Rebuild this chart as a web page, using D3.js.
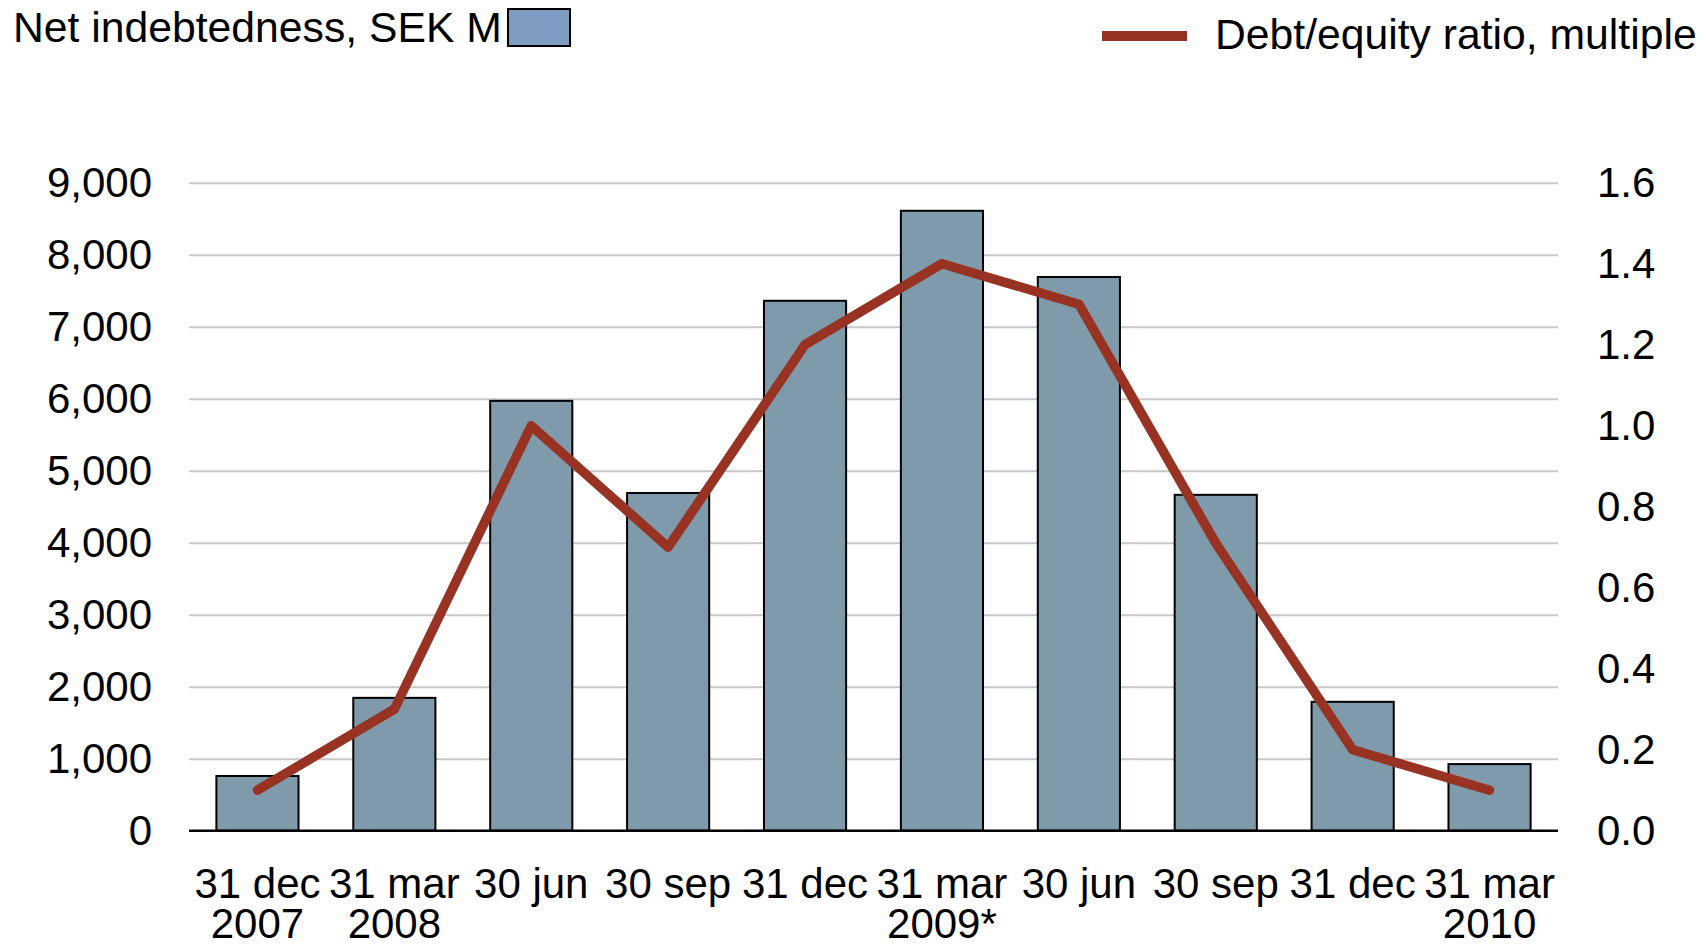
<!DOCTYPE html>
<html>
<head>
<meta charset="utf-8">
<script src="https://cdn.jsdelivr.net/npm/d3@7"></script>
<style>
  body { margin: 0; background: #fff; }
  svg { display: block; }
  text { font-family: "Liberation Sans", Arial, sans-serif; fill: #000; }
</style>
</head>
<body>
<div id="graph"></div>
<script>
// quarter-end dates, first and second line of the x labels
var periods = [ "31 dec", "31 mar", "30 jun", "30 sep", "31 dec", "31 mar", "30 jun", "30 sep", "31 dec", "31 mar" ];
var years = [ "2007", "2008", "", "", "", "2009*", "", "", "", "2010" ];

// net indebtedness, SEK M (bars, left axis)
var netDebt = [ 760, 1845, 5970, 4690, 7360, 8610, 7690, 4665, 1790, 925 ];

// debt/equity ratio, multiple (line, right axis)
var debtEquity = [ 0.1, 0.3, 1.0, 0.7, 1.2, 1.4, 1.3, 0.71, 0.2, 0.1 ];

var leftTicks = [ 0, 1000, 2000, 3000, 4000, 5000, 6000, 7000, 8000, 9000 ];
var rightTicks = [ 0, 0.2, 0.4, 0.6, 0.8, 1.0, 1.2, 1.4, 1.6 ];

document.addEventListener( "DOMContentLoaded", function() {
    var width = 1707;
    var height = 947;
    var plot = { left: 189, right: 1558, top: 182.7, bottom: 830.7 };

    var vis = d3.select( "#graph" ).append( "svg" )
        .attr( "width", width )
        .attr( "height", height );

    var x = d3.scaleBand()
        .domain( d3.range( periods.length ) )
        .range( [ plot.left, plot.right ] )
        .paddingInner( 0.4 )
        .paddingOuter( 0.2 );

    var yLeft = d3.scaleLinear().domain( [ 0, 9000 ] ).range( [ plot.bottom, plot.top ] );
    var yRight = d3.scaleLinear().domain( [ 0, 1.6 ] ).range( [ plot.bottom, plot.top ] );

    drawAxes( vis, plot, x, yLeft, yRight );
    drawBars( vis, x, yLeft );
    drawLine( vis, x, yRight );
    drawLegend( vis );
});

function drawAxes( vis, plot, x, yLeft, yRight ) {
    // left axis, its ticks double as the grey gridlines
    var left = vis.append( "g" )
        .attr( "transform", "translate(" + plot.left + ",0)" )
        .call( d3.axisLeft( yLeft )
            .tickValues( leftTicks )
            .tickSize( -( plot.right - plot.left ) )
            .tickPadding( 37 )
            .tickFormat( d3.format( ",d" ) ) );
    left.select( ".domain" ).remove();
    left.selectAll( ".tick line" )
        .attr( "stroke", "#c8c8c8" )
        .attr( "stroke-width", 2 )
        .attr( "display", function( d ) { return d === 0 ? "none" : null; });
    left.selectAll( ".tick text" )
        .attr( "font-size", 42 )
        .attr( "font-family", "Liberation Sans, Arial, sans-serif" )
        .attr( "fill", "#000" );

    var right = vis.append( "g" )
        .attr( "transform", "translate(" + plot.right + ",0)" )
        .call( d3.axisRight( yRight )
            .tickValues( rightTicks )
            .tickSize( 0 )
            .tickPadding( 39 )
            .tickFormat( d3.format( ".1f" ) ) );
    right.select( ".domain" ).remove();
    right.selectAll( ".tick text" )
        .attr( "font-size", 42 )
        .attr( "font-family", "Liberation Sans, Arial, sans-serif" )
        .attr( "fill", "#000" );

    // x labels, two lines each
    var labels = vis.append( "g" ).selectAll( "text" )
        .data( periods )
        .enter().append( "text" )
        .attr( "text-anchor", "middle" )
        .attr( "font-size", 42 )
        .attr( "x", function( d, i ) { return x( i ) + x.bandwidth() / 2; })
        .attr( "y", 898 );
    labels.append( "tspan" ).text( function( d ) { return d; });
    labels.append( "tspan" )
        .attr( "x", function( d, i ) { return x( i ) + x.bandwidth() / 2; })
        .attr( "dy", 39.5 )
        .text( function( d, i ) { return years[ i ]; });
}

function drawBars( vis, x, yLeft ) {
    vis.append( "g" ).selectAll( "rect" )
        .data( netDebt )
        .enter().append( "rect" )
        .attr( "x", function( d, i ) { return x( i ); })
        .attr( "y", function( d ) { return yLeft( d ); })
        .attr( "width", x.bandwidth() )
        .attr( "height", function( d ) { return yLeft( 0 ) - yLeft( d ); })
        .attr( "fill", "#7f9bab" )
        .attr( "stroke", "#000" )
        .attr( "stroke-width", 2 );

    // black baseline
    vis.append( "line" )
        .attr( "x1", x.range()[ 0 ] )
        .attr( "x2", x.range()[ 1 ] )
        .attr( "y1", yLeft( 0 ) )
        .attr( "y2", yLeft( 0 ) )
        .attr( "stroke", "#000" )
        .attr( "stroke-width", 2.5 );
}

function drawLine( vis, x, yRight ) {
    var line = d3.line()
        .x( function( d, i ) { return x( i ) + x.bandwidth() / 2; })
        .y( function( d ) { return yRight( d ); });

    vis.append( "path" )
        .datum( debtEquity )
        .attr( "d", line )
        .attr( "fill", "none" )
        .attr( "stroke", "#983222" )
        .attr( "stroke-width", 9.5 )
        .attr( "stroke-linecap", "round" )
        .attr( "stroke-linejoin", "round" );
}

function drawLegend( vis ) {
    var g = vis.append( "g" );

    g.append( "text" )
        .attr( "x", 13 )
        .attr( "y", 42 )
        .attr( "font-size", 42.7 )
        .text( "Net indebtedness, SEK M" );
    g.append( "rect" )
        .attr( "x", 508 )
        .attr( "y", 9 )
        .attr( "width", 62 )
        .attr( "height", 37 )
        .attr( "fill", "#7e9dc1" )
        .attr( "stroke", "#000" )
        .attr( "stroke-width", 2 );

    g.append( "line" )
        .attr( "x1", 1102 )
        .attr( "x2", 1187 )
        .attr( "y1", 36 )
        .attr( "y2", 36 )
        .attr( "stroke", "#983222" )
        .attr( "stroke-width", 10 );
    g.append( "text" )
        .attr( "x", 1215 )
        .attr( "y", 49 )
        .attr( "font-size", 42.7 )
        .text( "Debt/equity ratio, multiple" );
}
</script>
</body>
</html>
